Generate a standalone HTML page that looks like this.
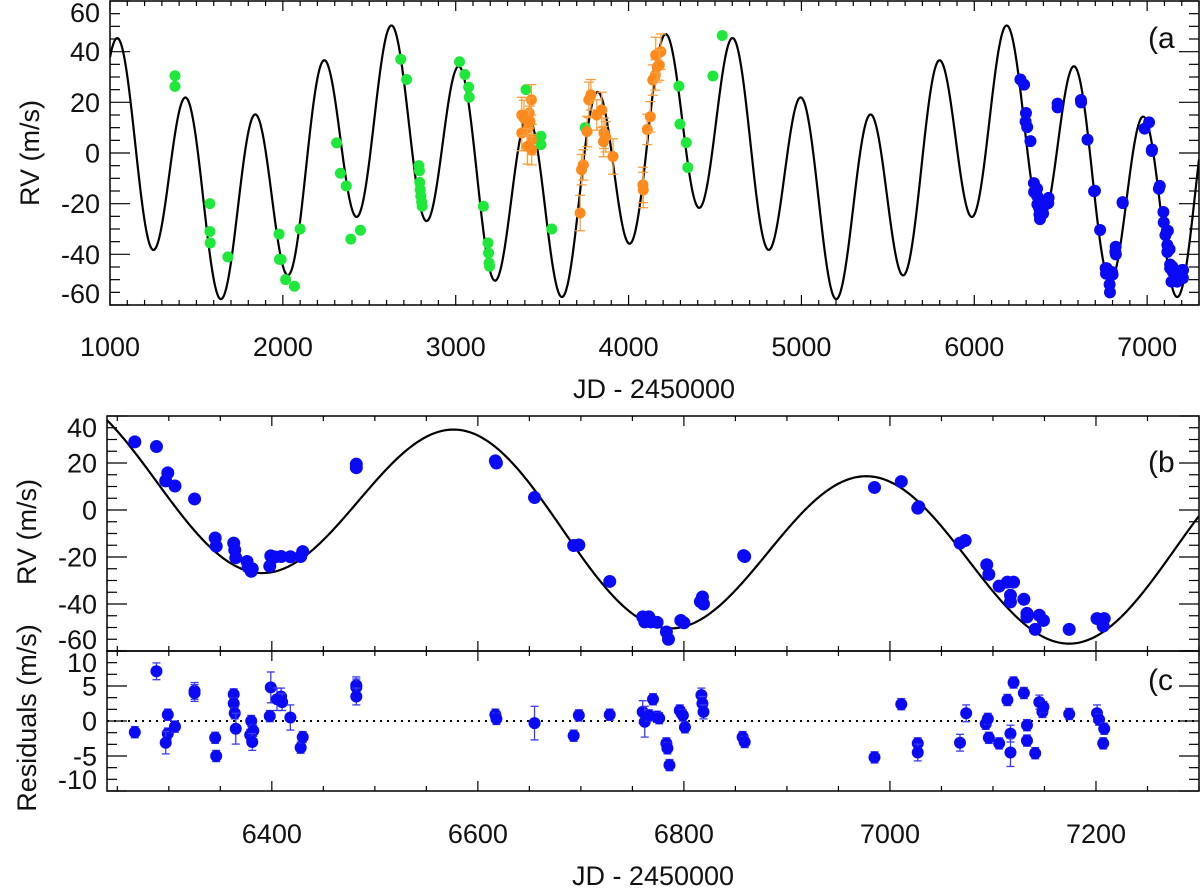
<!DOCTYPE html>
<html><head><meta charset="utf-8">
<style>
html,body{margin:0;padding:0;background:#fff;}
svg{display:block;}
text{font-family:"Liberation Sans",Arial,sans-serif;fill:#111;}
</style></head>
<body>
<svg id="chart" width="1200" height="888" viewBox="0 0 1200 888" xmlns="http://www.w3.org/2000/svg"></svg>
<script>
// ---------- DATA ----------
// model parameters (two-signal fit)
const modelP1 = 395.5, modelK1 = 36, modelT1 = 6188;
const modelP2 = 1780, modelA2 = 17, modelB2 = -7, modelT2 = 6280;
const modelOffset = -4;

// green data set (panel a)
const greenT = [1376,1376,1578,1578,1580,1682,1978,1980,1990,2016,2067,2100,2311,2333,2367,2393,2449,2682,2716,2787,2790,2792,2795,2798,2803,2806,3022,3053,3075,3078,3160,3187,3190,3193,3196,3407,3493,3493,3556,3749,4291,4297,4334,4343,4488,4542];
const greenRV = [30.5,26.3,-20,-31,-35.5,-41,-32,-42,-42,-50,-52.6,-30,4,-8,-13,-34,-30.5,37,29,-5,-7,-11.6,-14.5,-17,-19.3,-21,36,31,26,22,-21,-35.5,-39.5,-43.4,-44.7,25,3.3,6.6,-30,10,26.4,11.4,4.1,-5.7,30.4,46.4];

// orange data set (panel a)
const orangeT = [3382,3382,3438,3395,3425,3420,3440,3440,3415,3430,3720,3738,3728,3760,3770,3782,3816,3845,3858,3868,3855,3910,4083,4085,4108,4126,4140,4155,4166,4157,4187,4178];
const orangeRV = [15,7.9,21,13.8,15.8,9.9,5.3,1.3,2.6,12.5,-23.7,-4.7,-6.6,8.5,21,23,15,17,7.8,6.4,4.5,-1.4,-12.6,-14.6,9.3,14.3,28.8,30.8,34,38.7,40,34.7];
const orangeErr = [7,7,6,7,6,7,6,6,7,6,7,6,6,6,7,6,6,7,6,6,6,7,7,7,6,6,6,6,6,7,7,6];

// blue data set (panels a & b)
const blueT = [6267,6288,6299,6297,6306,6325,6345,6346,6363,6364,6365,6376,6377,6380,6381,6398,6399,6403,6409,6418,6428,6430,6482,6482,6617,6618,6655,6693,6698,6728,6760,6762,6766,6768,6774,6783,6785,6797,6800,6816,6818,6819,6858,6859,6985,7011,7027,7028,7068,7073,7094,7096,7106,7114,7120,7117,7117,7130,7133,7133,7141,7145,7149,7174,7201,7208,7207];
const blueRV = [29,27,15.8,12.4,10.2,4.7,-11.9,-15.4,-14.1,-17,-20.3,-21.9,-24.3,-26.1,-25,-23.9,-19.5,-20,-19.8,-19.9,-19.8,-17.7,19.5,18,20.9,20,5.3,-15.1,-14.9,-30.4,-45.5,-47.6,-45.5,-47.6,-47.8,-51.9,-55,-47,-48,-39,-37,-40,-19.4,-19.8,9.6,12.1,0.8,1.4,-14.1,-13,-23.3,-27.4,-32.4,-30.7,-30.7,-36.3,-39.1,-38,-44,-45.5,-50.8,-44.8,-47,-50.8,-46.2,-46.2,-49.4];

// residuals (panel c)
const resT = [6267,6288,6299,6299,6297,6306,6325,6325,6345,6346,6363,6363,6364,6365,6380,6379,6382,6381,6398,6399,6405,6409,6410,6418,6428,6430,6482,6482,6482,6617,6618,6655,6693,6698,6728,6760,6762,6766,6774,6776,6770,6783,6784,6786,6796,6799,6801,6817,6818,6819,6857,6859,6985,7011,7027,7027,7068,7074,7093,7095,7096,7106,7114,7117,7117,7120,7130,7133,7133,7141,7145,7148,7149,7174,7201,7203,7208,7207];
const resV = [-1.6,7.1,0.9,-1.8,-3.1,-0.8,4.3,4,-2.4,-5,3.8,2.5,1.1,-1.1,0,-2,-1.4,-3,0.7,4.8,3.1,3.5,2.7,0.5,-3.8,-2.3,5.1,4.8,3.5,0.9,0.3,-0.3,-2.1,0.8,0.9,1.3,-0.1,0.8,0.6,0.4,3.1,-3.2,-3.9,-6.3,1.5,0.8,-0.9,3.7,2.5,1.3,-2.3,-3,-5.2,2.4,-3.2,-4.5,-3.1,1.1,-0.4,0.3,-2.4,-3.2,3,-1.8,-4.5,5.5,4,-0.6,-2.8,-4.6,2.7,1.3,2,1,1.1,0.2,-1.1,-3.2];
const resErr = [0.8,1.2,0.8,0.8,1.6,0.8,1.2,1.2,0.8,0.8,0.8,0.8,0.8,2.2,0.8,0.8,0.8,1.2,0.8,2.2,1.6,1.2,1.2,1.8,0.8,0.8,1.2,1.2,1.2,0.8,0.8,2.4,0.8,0.8,0.8,1.6,2.2,0.8,0.8,0.8,0.8,0.8,0.8,0.8,0.8,0.8,0.8,1,1,1,0.8,0.8,0.8,0.8,0.8,1.2,1.2,1.2,0.8,0.8,0.8,0.8,0.8,1.2,2,0.8,0.8,0.8,0.8,0.8,1,0.8,0.8,0.8,1.2,0.8,0.8,0.8];

// tick labels
const aXTicks = [1000,2000,3000,4000,5000,6000,7000];
const aYTicks = [-60,-40,-20,0,20,40,60];
const bXTicks = [6400,6600,6800,7000,7200];
const bYTicks = [-60,-40,-20,0,20,40];
const cYTicks = [-10,-5,0,5,10];

// ---------- GEOMETRY ----------
const svg = document.getElementById('chart');
const NS = 'http://www.w3.org/2000/svg';
function mk(tag, attrs, parent){
  const e = document.createElementNS(NS, tag);
  for (const k in attrs) e.setAttribute(k, attrs[k]);
  (parent||svg).appendChild(e);
  return e;
}
function model(t){
  const p2 = 2*Math.PI*(t-modelT2)/modelP2;
  return modelK1*Math.cos(2*Math.PI*(t-modelT1)/modelP1) + modelA2*Math.cos(p2) + modelB2*Math.sin(p2) + modelOffset;
}
function lin(d0,d1,p0,p1){ return v => p0 + (v-d0)*(p1-p0)/(d1-d0); }

const A = {l:110, r:1199, t:1, b:305};
const xA = lin(1000,7300,A.l,A.r), yA = lin(-60,60,A.b,A.t);
const B = {l:107, r:1199, t:416, b:651};
const xB = lin(6240,7300,B.l,B.r), yB = lin(-60,40,B.b,B.t);
const C = {l:107, r:1199, t:651, b:791};
const yC = lin(-10,10,C.b,C.t);

const FS = 27;

const defs = mk('defs',{});
[['clipA',A],['clipB',B],['clipC',C]].forEach(([id,P])=>{
  const cp = mk('clipPath',{id:id},defs);
  mk('rect',{x:P.l,y:P.t,width:P.r-P.l,height:P.b-P.t},cp);
});

function frame(P, name){
  const r = mk('rect',{x:P.l,y:P.t,width:P.r-P.l,height:P.b-P.t,fill:'none',stroke:'#000','stroke-width':1.5});
  
  
}
function xTicks(P, xs, d0, d1, major, minor, name){
  const g = mk('g',{stroke:'#000','stroke-width':1.2});
  
  
  for (let v = Math.ceil(d0/minor)*minor; v <= d1; v += minor){
    const x = xs(v); const isMaj = Math.abs(v/major - Math.round(v/major))<1e-6;
    const L = isMaj?10:5;
    mk('line',{x1:x,x2:x,y1:P.b,y2:P.b-L},g);
    mk('line',{x1:x,x2:x,y1:P.t,y2:P.t+L},g);
  }
}
function yTicks(P, ys, d0, d1, major, minor, name){
  const g = mk('g',{stroke:'#000','stroke-width':1.2});
  
  
  const n = Math.round((d1-d0)/minor);
  for (let i=0;i<=n;i++){
    const v = d0 + i*minor; const y = ys(v);
    const isMaj = Math.abs(v/major - Math.round(v/major))<1e-6;
    const L = isMaj?20:10;
    mk('line',{x1:P.l,x2:P.l+L,y1:y,y2:y},g);
    mk('line',{x1:P.r,x2:P.r-L,y1:y,y2:y},g);
  }
}
function yLabels(P, ys, vals, name){
  const g = mk('g',{'font-size':FS,'text-anchor':'end'});
  
  
  vals.forEach(v=>{
    let y = ys(v)+9.5;
    y = Math.max(y, P.t+21); y = Math.min(y, P.b-2);
    const t = mk('text',{x:P.l-10,y:y},g); t.textContent = String(v);
  });
}
function xLabels(xs, vals, y, name){
  const g = mk('g',{'font-size':FS,'text-anchor':'middle'});
  
  
  vals.forEach(v=>{ const t = mk('text',{x:xs(v),y:y},g); t.textContent = String(v); });
}
function curve(xs, ys, d0, d1, step, clip, name){
  let d = '';
  for (let t=d0; t<=d1+1e-9; t+=step){ d += (d===''?'M':'L') + xs(t).toFixed(2)+','+ys(model(t)).toFixed(2); }
  const p = mk('path',{d:d,fill:'none',stroke:'#000','stroke-width':2.2,'clip-path':'url(#'+clip+')'});
  
  
}
function points(xs, ys, T, V, E, color, ecolor, r, clip, name, cap){
  const g = mk('g',{'clip-path':'url(#'+clip+')'});
  
  
  for (let i=0;i<T.length;i++){
    const x = xs(T[i]), y = ys(V[i]);
    if (E){
      const y1 = ys(V[i]+E[i]), y2 = ys(V[i]-E[i]);
      mk('line',{x1:x,x2:x,y1:y1,y2:y2,stroke:ecolor,'stroke-width':1.3},g);
      mk('line',{x1:x-cap,x2:x+cap,y1:y1,y2:y1,stroke:ecolor,'stroke-width':1.3},g);
      mk('line',{x1:x-cap,x2:x+cap,y1:y2,y2:y2,stroke:ecolor,'stroke-width':1.3},g);
    }
    const c = mk('circle',{cx:x,cy:y,r:r,fill:color},g);
    
    
  }
}
function label(x,y,txt,name,rot,size,anchor){
  const t = mk('text',{x:x,y:y,'font-size':size||FS,'text-anchor':anchor||'middle'});
  if (rot) t.setAttribute('transform','rotate(-90 '+x+' '+y+')');
  t.textContent = txt;
  
  
}

// ---------- PANEL A ----------
curve(xA, yA, 1000, 7300, 4, 'clipA', 'model-curve-a');
points(xA, yA, greenT, greenRV, null, '#1ee83a', null, 5.5, 'clipA', 'green-data-a');
points(xA, yA, orangeT, orangeRV, orangeErr, '#ff8a1c', '#f5a040', 5.5, 'clipA', 'orange-data-a', 5);
points(xA, yA, blueT, blueRV, null, '#0a0af5', null, 6, 'clipA', 'blue-data-a');
frame(A, 'panel-a-frame');
xTicks(A, xA, 1000, 7300, 1000, 100, 'x-ticks-a');
yTicks(A, yA, -60, 60, 20, 5, 'y-ticks-a');
yLabels(A, yA, aYTicks, 'y-tick-labels-a');
xLabels(xA, aXTicks, 356, 'x-tick-labels-a');
label(654, 398, 'JD - 2450000', 'x-axis-title-a');
label(39, 153, 'RV (m/s)', 'y-axis-title-a', true);
label(1148, 48, '(a', 'panel-label-a', false, 30, 'start');

// ---------- PANEL B ----------
curve(xB, yB, 6240, 7300, 2, 'clipB', 'model-curve-b');
points(xB, yB, blueT, blueRV, null, '#0a0af5', null, 6.5, 'clipB', 'blue-data-b');
frame(B, 'panel-b-frame');
xTicks(B, xB, 6240, 7300, 200, 50, 'x-ticks-b');
yTicks(B, yB, -60, 40, 20, 5, 'y-ticks-b');
yLabels(B, yB, bYTicks, 'y-tick-labels-b');
label(36, 532, 'RV (m/s)', 'y-axis-title-b', true);
label(1148, 472, '(b', 'panel-label-b', false, 30, 'start');

// ---------- PANEL C ----------
const zl = mk('line',{x1:C.l,x2:C.r,y1:yC(0),y2:yC(0),stroke:'#000','stroke-width':2,'stroke-dasharray':'2,5'});


points(xB, yC, resT, resV, resErr, '#0a0af5', '#3a3af0', 6, 'clipC', 'residual-data', 4);
frame(C, 'panel-c-frame');
xTicks(C, xB, 6240, 7300, 200, 50, 'x-ticks-c');
yTicks(C, yC, -10, 10, 5, 5/3, 'y-ticks-c');
yLabels(C, yC, cYTicks, 'y-tick-labels-c');
xLabels(xB, bXTicks, 843, 'x-tick-labels-c');
label(653, 885, 'JD - 2450000', 'x-axis-title-c');
label(36, 718, 'Residuals (m/s)', 'y-axis-title-c', true);
label(1148, 690, '(c', 'panel-label-c', false, 30, 'start');
</script>
</body></html>
